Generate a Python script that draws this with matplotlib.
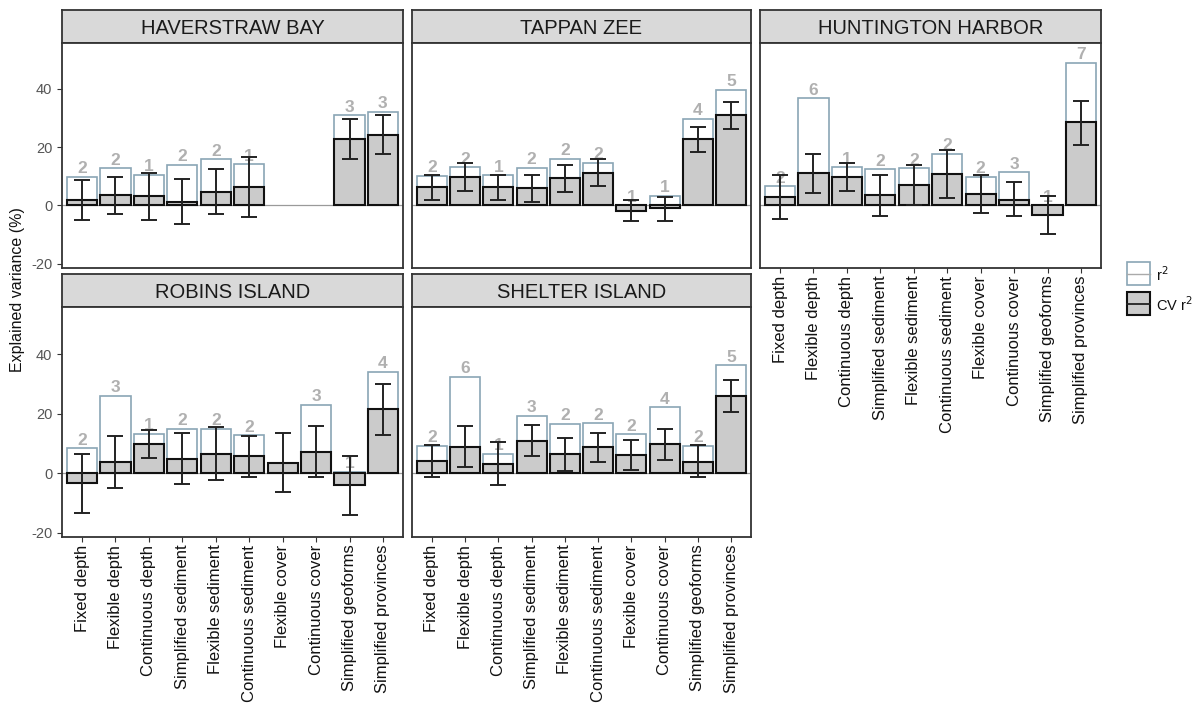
import numpy as np
import matplotlib
matplotlib.use("Agg")
import matplotlib.pyplot as plt
from matplotlib.patches import Rectangle
from matplotlib.lines import Line2D

plt.rcParams['font.family'] = ['Liberation Sans', 'DejaVu Sans']
plt.rcParams['axes.unicode_minus'] = False

nan = np.nan
categories = ["Fixed depth", "Flexible depth", "Continuous depth", "Simplified sediment",
              "Flexible sediment", "Continuous sediment", "Flexible cover",
              "Continuous cover", "Simplified geoforms", "Simplified provinces"]

sites = ["HAVERSTRAW BAY", "TAPPAN ZEE", "HUNTINGTON HARBOR", "ROBINS ISLAND", "SHELTER ISLAND"]

hb_r2 = [9.9, 12.8, 10.5, 14.0, 15.8, 14.2, nan, nan, 31.0, 32.2]
hb_cv = [2.0, 3.5, 3.2, 1.2, 4.6, 6.3, nan, nan, 22.9, 24.2]
hb_lo = [-4.9, -3.0, -4.9, -6.5, -3.0, -4.1, nan, nan, 16.0, 17.5]
hb_hi = [8.6, 9.8, 11.0, 9.0, 12.5, 16.5, nan, nan, 29.7, 31.0]
hb_n = [2, 2, 1, 2, 2, 1, nan, nan, 3, 3]

tz_r2 = [10.2, 13.2, 10.3, 13.0, 16.0, 14.6, 0.0, 3.3, 29.8, 39.7]
tz_cv = [6.4, 9.9, 6.4, 6.0, 9.5, 11.2, -1.8, -1.0, 22.9, 31.0]
tz_lo = [2.0, 5.1, 2.0, 1.2, 4.5, 6.5, -5.4, -5.4, 18.5, 26.3]
tz_hi = [10.4, 14.6, 10.4, 10.5, 14.0, 15.8, 1.8, 2.9, 27.0, 35.4]
tz_n = [2, 2, 1, 2, 2, 2, 1, 1, 4, 5]

hh_r2 = [6.5, 36.8, 13.2, 12.4, 12.8, 17.7, 9.9, 11.4, 0.0, 49.0]
hh_cv = [2.9, 11.0, 9.9, 3.5, 6.9, 10.8, 3.8, 2.0, -3.2, 28.6]
hh_lo = [-4.5, 4.2, 5.1, -3.7, 0.0, 2.5, -2.6, -3.7, -9.9, 20.9]
hh_hi = [10.4, 17.5, 14.6, 10.4, 13.8, 19.0, 10.4, 8.0, 3.4, 36.0]
hh_n = [2, 6, 1, 2, 2, 2, 2, 3, 1, 7]

ri_r2 = [8.3, 26.0, 13.2, 14.9, 14.9, 12.7, nan, 22.9, 0.5, 34.0]
ri_cv = [-3.4, 3.6, 9.9, 4.6, 6.3, 5.6, 3.4, 7.2, -4.1, 21.5]
ri_lo = [-13.5, -4.9, 5.2, -3.7, -2.4, -1.4, -6.4, -1.5, -14.2, 12.9]
ri_hi = [6.5, 12.3, 14.6, 13.4, 15.4, 12.6, 13.6, 15.9, 5.8, 29.9]
ri_n = [2, 3, 1, 2, 2, 2, nan, 3, 1, 4]

si_r2 = [9.2, 32.3, 6.5, 19.3, 16.5, 16.8, 13.1, 22.1, 9.1, 36.3]
si_cv = [4.1, 8.9, 3.0, 10.9, 6.3, 8.7, 6.1, 9.6, 3.8, 25.9]
si_lo = [-1.2, 2.0, -4.1, 5.7, 0.8, 3.8, 1.1, 4.3, -1.2, 20.5]
si_hi = [9.5, 15.7, 10.5, 16.1, 11.7, 13.3, 11.1, 14.9, 9.3, 31.1]
si_n = [2, 6, 1, 3, 2, 2, 2, 4, 2, 5]

yticks = [-20, 0, 20, 40]

panels = [
    (hb_r2, hb_cv, hb_lo, hb_hi, hb_n),
    (tz_r2, tz_cv, tz_lo, tz_hi, tz_n),
    (hh_r2, hh_cv, hh_lo, hh_hi, hh_n),
    (ri_r2, ri_cv, ri_lo, ri_hi, ri_n),
    (si_r2, si_cv, si_lo, si_hi, si_n),
]

W, H = 1195, 707
fig = plt.figure(figsize=(W / 100, H / 100), dpi=100)

def fbox(x0, y0, x1, y1):
    return [x0 / W, 1 - y1 / H, (x1 - x0) / W, (y1 - y0) / H]

cols = [(62, 403), (412, 751), (760, 1101)]
rows = [((10, 43), (43, 268)), ((274, 307), (307, 537))]
pos = [(0, 0), (0, 1), (0, 2), (1, 0), (1, 1)]

EDGE = '#333333'
R2_EDGE = '#8aa5b5'
CV_FILL = '#cbcbcb'
LAB = '#b0b0b0'
x = np.arange(1, len(categories) + 1)

for i, (site, (r2, cv, lo, hi, n)) in enumerate(zip(sites, panels)):
    r, c = pos[i]
    (sy0, sy1), (py0, py1) = rows[r]
    cx0, cx1 = cols[c]
    # strip
    sax = fig.add_axes(fbox(cx0, sy0, cx1, sy1))
    sax.set_facecolor('#d9d9d9')
    sax.set_xticks([]); sax.set_yticks([])
    for s in sax.spines.values():
        s.set_color(EDGE); s.set_linewidth(1.3)
    sax.text(0.5, 0.45, site, ha='center', va='center', fontsize=14.5, color='#1a1a1a',
             transform=sax.transAxes)

    ax = fig.add_axes(fbox(cx0, py0, cx1, py1))
    r2a = np.array(r2, float); cva = np.array(cv, float)
    loa = np.array(lo, float); hia = np.array(hi, float)
    ax.axhline(0, color='#9a9a9a', lw=0.9, zorder=1)
    ax.bar(x, r2a, width=0.9, facecolor='white', edgecolor=R2_EDGE, linewidth=1.2, zorder=2)
    for xi, yv, nv in zip(x, r2a, n):
        if not np.isnan(nv):
            ax.annotate(str(int(nv)), xy=(xi, max(yv, 0)), xytext=(0, 2.5),
                        textcoords='offset points', ha='center', va='baseline',
                        fontsize=12.5, fontweight='bold', color=LAB, zorder=3)
    ax.bar(x, cva, width=0.9, facecolor=CV_FILL, edgecolor='#111111', linewidth=1.5, zorder=4)
    ok = ~np.isnan(cva)
    ax.errorbar(x[ok], cva[ok], yerr=[cva[ok] - loa[ok], hia[ok] - cva[ok]], fmt='none',
                ecolor='#222222', elinewidth=1.4, capsize=5.8, capthick=1.4, zorder=5)
    ax.set_xlim(0.4, 10.6)
    ax.set_ylim(-21.5, 55.8)
    for s in ax.spines.values():
        s.set_color(EDGE); s.set_linewidth(1.3)
    ax.set_yticks(yticks)
    if c == 0:
        ax.set_yticklabels([str(v) for v in yticks], fontsize=10.5, color='#555555')
        ax.tick_params(axis='y', length=3.5, color=EDGE)
    else:
        ax.tick_params(axis='y', length=0, labelleft=False)
    ax.set_xticks(x)
    if i in (2, 3, 4):
        ax.set_xticklabels(categories, rotation=90, fontsize=12, color='#111111')
        ax.tick_params(axis='x', length=3.5, color=EDGE, pad=2)
    else:
        ax.tick_params(axis='x', length=0, labelbottom=False)

fig.text(18 / W, 1 - 290 / H, 'Explained variance (%)', rotation=90, ha='center', va='center',
         fontsize=11.5, color='#111111')

# legend
lax = fig.add_axes(fbox(1120, 255, 1195, 322))
lax.set_xlim(1120, 1195); lax.set_ylim(322, 255)
lax.axis('off')
lax.add_patch(Rectangle((1127, 262), 23, 23, facecolor='white', edgecolor=R2_EDGE, lw=1.2))
lax.add_line(Line2D([1127, 1150], [273.5, 273.5], color='#aaaaaa', lw=1.0))
lax.add_patch(Rectangle((1127, 292), 23, 23, facecolor=CV_FILL, edgecolor='#111111', lw=1.5))
lax.add_line(Line2D([1127, 1150], [303.5, 303.5], color='#222222', lw=1.3))
lax.text(1156, 275, 'r$^2$', fontsize=10.5, va='center', ha='left', color='#111111')
lax.text(1156, 305, 'CV r$^2$', fontsize=10.5, va='center', ha='left', color='#111111')

fig.savefig('out.png', dpi=100)
